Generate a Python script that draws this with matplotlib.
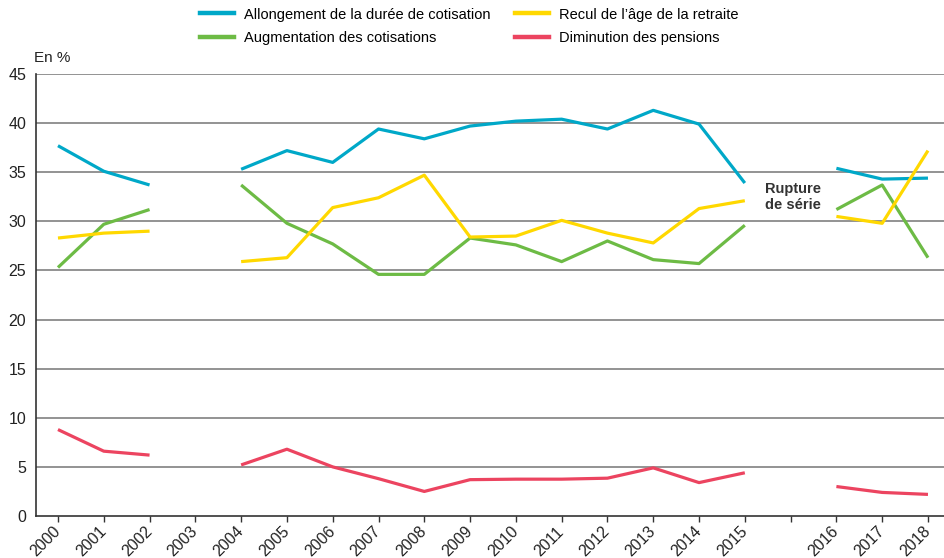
import numpy as np
import matplotlib.pyplot as plt
from matplotlib.lines import Line2D

plt.rcParams['font.family'] = ['Liberation Sans', 'DejaVu Sans']

# categories ('' = gap position between 2015 and 2016, "rupture de série")
years = ['2000', '2001', '2002', '2003', '2004', '2005', '2006', '2007', '2008',
         '2009', '2010', '2011', '2012', '2013', '2014', '2015', '', '2016', '2017', '2018']

nan = np.nan
allongement = [37.7, 35.1, 33.7, nan, 35.3, 37.2, 36.0, 39.4, 38.4, 39.7, 40.2, 40.4,
               39.4, 41.3, 39.9, 33.9, nan, 35.4, 34.3, 34.4]
recul = [28.3, 28.8, 29.0, nan, 25.9, 26.3, 31.4, 32.4, 34.7, 28.4, 28.5, 30.1,
         28.8, 27.8, 31.3, 32.1, nan, 30.5, 29.8, 37.2]
augmentation = [25.3, 29.7, 31.2, nan, 33.7, 29.8, 27.7, 24.6, 24.6, 28.3, 27.6, 25.9,
                28.0, 26.1, 25.7, 29.6, nan, 31.2, 33.7, 26.3]
diminution = [8.8, 6.6, 6.2, nan, 5.2, 6.8, 5.0, 3.8, 2.5, 3.7, 3.75, 3.75,
              3.85, 4.9, 3.4, 4.4, nan, 3.0, 2.4, 2.2]

series = [allongement, augmentation, recul, diminution]
labels = ['Allongement de la durée de cotisation', 'Augmentation des cotisations',
          'Recul de l’âge de la retraite', 'Diminution des pensions']
colors = ['#00A8C8', '#6DBB45', '#FFD800', '#EC4460']

fig = plt.figure(figsize=(9.44, 5.58), dpi=100)
ax = fig.add_axes([36/944, 1 - 516/558, (944-36)/944, (516-74)/558])

x = np.arange(len(years))
for vals, c in zip(series, colors):
    ax.plot(x, vals, color=c, lw=2.3, solid_capstyle='butt', zorder=3)

ax.set_xlim(-0.48, 19.35)
ax.set_ylim(0, 45)
ax.set_yticks(range(0, 46, 5))
ax.set_xticks(x)
ax.set_xticklabels(years, rotation=45, ha='right', va='center', rotation_mode='anchor',
                   fontsize=11.5, color='#222222')
ax.tick_params(axis='x', length=4.5, width=1, color='#333333', pad=5)
ax.tick_params(axis='y', length=0, pad=7, labelsize=11.5, labelcolor='#222222')
for yv in range(5, 46, 5):
    ax.axhline(yv, color='#808080', lw=1.2, zorder=1)

for s in ['top', 'right']:
    ax.spines[s].set_visible(False)
ax.spines['left'].set_color('#333333')
ax.spines['bottom'].set_color('#333333')
ax.spines['left'].set_linewidth(1.2)
ax.spines['bottom'].set_linewidth(1.2)

fig.text(34/944, 1 - 58/558, 'En %', fontsize=11, color='#222222', va='center')

ax.text(16.05, 32.5, 'Rupture\nde série', ha='center', va='center', fontsize=10.5,
        fontweight='bold', color='#333333', linespacing=1.2, zorder=4,
        bbox=dict(facecolor='white', edgecolor='none', pad=1))

handles = [Line2D([0], [0], color=c, lw=3.2) for c in colors]
fig.legend(handles, labels, loc='upper center', bbox_to_anchor=(0.497, 1.01), ncol=2,
           frameon=False, fontsize=10.5, handlelength=2.3, columnspacing=1.7,
           handletextpad=0.7, labelspacing=0.65)

fig.savefig('out.png', dpi=100)
